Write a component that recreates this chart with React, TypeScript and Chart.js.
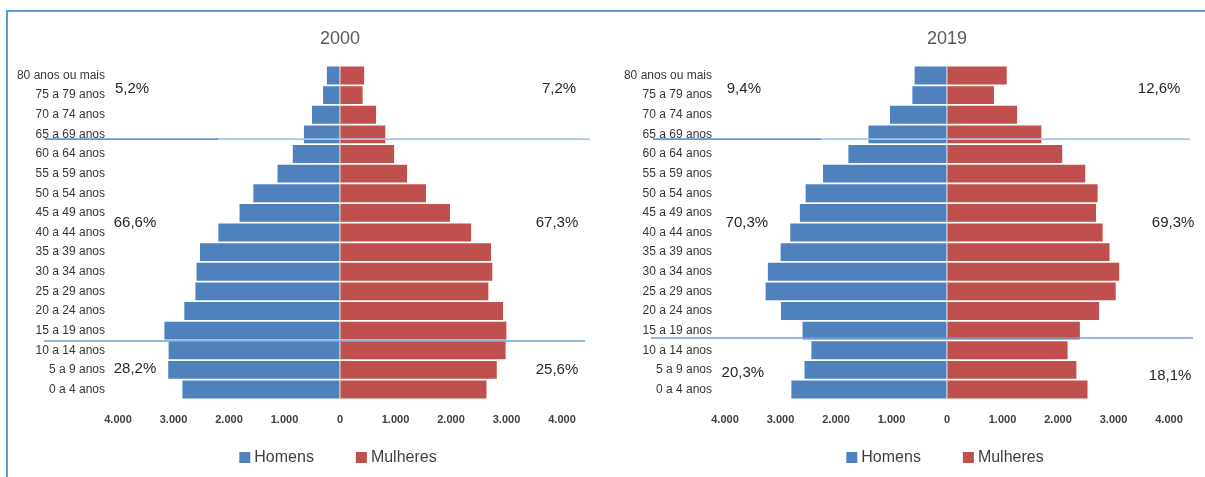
import React, { useEffect, useRef } from "react";
import { Chart, registerables } from "chart.js";

Chart.register(...registerables);

// ---------- data ----------
const ageGroups = [
  "0 a 4 anos",
  "5 a 9 anos",
  "10 a 14 anos",
  "15 a 19 anos",
  "20 a 24 anos",
  "25 a 29 anos",
  "30 a 34 anos",
  "35 a 39 anos",
  "40 a 44 anos",
  "45 a 49 anos",
  "50 a 54 anos",
  "55 a 59 anos",
  "60 a 64 anos",
  "65 a 69 anos",
  "70 a 74 anos",
  "75 a 79 anos",
  "80 anos ou mais",
];

const homens2000 = [2839, 3095, 3088, 3164, 2805, 2605, 2585, 2522, 2191, 1810, 1561, 1126, 850, 650, 505, 305, 236];
const mulheres2000 = [2639, 2825, 2984, 2998, 2937, 2673, 2744, 2722, 2363, 1982, 1549, 1209, 975, 816, 650, 408, 435];
const homens2019 = [2804, 2567, 2443, 2603, 2991, 3268, 3227, 2998, 2824, 2651, 2547, 2234, 1777, 1415, 1027, 624, 583];
const mulheres2019 = [2532, 2331, 2173, 2394, 2741, 3040, 3103, 2928, 2804, 2685, 2714, 2491, 2076, 1700, 1263, 847, 1076];

const xTicks = [-4000, -3000, -2000, -1000, 0, 1000, 2000, 3000, 4000];
const seriesNames = ["Homens", "Mulheres"];
const titles = ["2000", "2019"];

// percentage annotation texts
const pct2000 = ["5,2%", "7,2%", "66,6%", "67,3%", "28,2%", "25,6%"];
const pct2019 = ["9,4%", "12,6%", "70,3%", "69,3%", "20,3%", "18,1%"];

// ---------- style / layout ----------
const BLUE = "#4f81bd";
const RED = "#c0504d";
const FONT = "'Liberation Sans', Arial, sans-serif";

const W = 600;
const H = 477;

type Annot = { x: number; y: number };
const annotPos2000: Annot[] = [
  { x: -3748, y: 15.31 },
  { x: 3946, y: 15.31 },
  { x: -3694, y: 8.48 },
  { x: 3910, y: 8.48 },
  { x: -3694, y: 1.04 },
  { x: 3910, y: 1.0 },
];
const annotPos2019: Annot[] = [
  { x: -3660, y: 15.31 },
  { x: 3822, y: 15.31 },
  { x: -3606, y: 8.48 },
  { x: 4074, y: 8.48 },
  { x: -3678, y: 0.84 },
  { x: 4020, y: 0.69 },
];

type Seg = [number, number, string];
type HLine = { y: number; segs: Seg[] };
const lines2000: HLine[] = [
  { y: 12.76, segs: [[45, 218, "#5b9bd5"], [218, 590, "#a9c5ea"]] },
  { y: 2.47, segs: [[44, 585, "#6a9fd6"]] },
];
const lines2019: HLine[] = [
  { y: 12.76, segs: [[46, 214, "#5b9bd5"], [214, 583, "#a9c5ea"]] },
  { y: 2.62, segs: [[44, 586, "#6a9fd6"]] },
];

function fmt(v: number): string {
  const a = Math.abs(v);
  const s = String(a);
  return s.replace(/\B(?=(\d{3})+(?!\d))/g, ".");
}

type Props = {
  left: number;
  title: string;
  men: number[];
  women: number[];
  pcts: string[];
  annots: Annot[];
  hlines: HLine[];
};

function Pyramid({ left, title, men, women, pcts, annots, hlines }: Props) {
  const ref = useRef<HTMLCanvasElement | null>(null);

  useEffect(() => {
    if (!ref.current) return;

    const overlay = {
      id: "overlay",
      afterDraw(chart: any) {
        const ctx = chart.ctx as CanvasRenderingContext2D;
        const xs = chart.scales.x;
        const ys = chart.scales.y;
        const cx = xs.getPixelForValue(0);
        ctx.save();

        // title
        ctx.fillStyle = "#595959";
        ctx.font = `18px ${FONT}`;
        ctx.textAlign = "center";
        ctx.textBaseline = "middle";
        ctx.fillText(title, cx, 39);

        // percentage annotations
        ctx.fillStyle = "#262626";
        ctx.font = `15px ${FONT}`;
        pcts.forEach((p, i) => {
          const a = annots[i];
          ctx.fillText(p, xs.getPixelForValue(a.x), ys.getPixelForValue(a.y));
        });

        // horizontal separator lines
        ctx.lineWidth = 1.6;
        hlines.forEach((l) => {
          const y = ys.getPixelForValue(l.y);
          l.segs.forEach(([x0, x1, c]) => {
            ctx.strokeStyle = c;
            ctx.beginPath();
            ctx.moveTo(x0, y);
            ctx.lineTo(x1, y);
            ctx.stroke();
          });
        });

        // legend
        ctx.font = `16px ${FONT}`;
        ctx.textAlign = "left";
        ctx.textBaseline = "middle";
        const box = 11;
        const gapBox = 4;
        const gapItem = 42;
        const colors = [BLUE, RED];
        const widths = seriesNames.map((n) => ctx.measureText(n).width);
        const total = widths.reduce((s, w) => s + w + box + gapBox, 0) + gapItem;
        let x = cx - total / 2 - 2;
        const ly = 458;
        seriesNames.forEach((n, i) => {
          ctx.fillStyle = colors[i];
          ctx.fillRect(x, ly - box / 2 - 0.5, box, box);
          ctx.fillStyle = "#404040";
          ctx.fillText(n, x + box + gapBox, ly);
          x += box + gapBox + widths[i] + gapItem;
        });
        ctx.restore();
      },
    };

    const chart = new Chart(ref.current, {
      type: "bar",
      data: {
        labels: ageGroups,
        datasets: [
          {
            label: seriesNames[0],
            data: men.map((v) => -v),
            backgroundColor: BLUE,
            barPercentage: 0.91,
            categoryPercentage: 1,
          },
          {
            label: seriesNames[1],
            data: women,
            backgroundColor: RED,
            barPercentage: 0.91,
            categoryPercentage: 1,
          },
        ],
      },
      options: {
        indexAxis: "y",
        animation: false,
        responsive: false,
        maintainAspectRatio: false,
        layout: { padding: { left: 0, right: 38, top: 65.7, bottom: 0 } },
        plugins: {
          legend: { display: false },
          title: { display: false },
          tooltip: { enabled: false },
        },
        scales: {
          x: {
            type: "linear",
            min: xTicks[0],
            max: xTicks[xTicks.length - 1],
            stacked: true,
            z: 1,
            afterBuildTicks: (s: any) => {
              s.ticks = xTicks.map((v) => ({ value: v }));
            },
            afterFit: (s: any) => {
              s.height = H - 399.3;
            },
            ticks: {
              callback: (v: any) => fmt(Number(v)),
              font: { family: FONT, size: 11, weight: "bold" },
              color: "#404040",
              padding: 14,
              maxRotation: 0,
              autoSkip: false,
            },
            grid: {
              drawTicks: false,
              color: (c: any) => (c.tick && c.tick.value === 0 ? "#d9d9d9" : "rgba(0,0,0,0)"),
              lineWidth: 1,
            },
            border: { display: false },
          },
          y: {
            type: "category",
            stacked: true,
            reverse: true,
            afterFit: (s: any) => {
              s.width = 118;
            },
            ticks: {
              font: { family: FONT, size: 12 },
              color: "#363636",
              padding: 13,
              autoSkip: false,
            },
            grid: { display: false, drawTicks: false },
            border: { display: false },
          },
        },
      } as any,
      plugins: [overlay],
    });
    return () => chart.destroy();
  }, [title, men, women, pcts, annots, hlines]);

  return (
    <canvas
      ref={ref}
      width={W}
      height={H}
      style={{ position: "absolute", left, top: 0, width: W, height: H }}
    />
  );
}

export default function App() {
  return (
    <div
      style={{
        position: "fixed",
        left: 0,
        top: 0,
        width: 1205,
        height: 477,
        background: "#ffffff",
        overflow: "hidden",
      }}
    >
      <div
        style={{
          position: "absolute",
          left: 6,
          top: 10,
          width: 1400,
          height: 700,
          borderLeft: "2px solid #5b9bd5",
          borderTop: "2px solid #5b9bd5",
        }}
      />
      <Pyramid
        left={0}
        title={titles[0]}
        men={homens2000}
        women={mulheres2000}
        pcts={pct2000}
        annots={annotPos2000}
        hlines={lines2000}
      />
      <Pyramid
        left={607}
        title={titles[1]}
        men={homens2019}
        women={mulheres2019}
        pcts={pct2019}
        annots={annotPos2019}
        hlines={lines2019}
      />
    </div>
  );
}
